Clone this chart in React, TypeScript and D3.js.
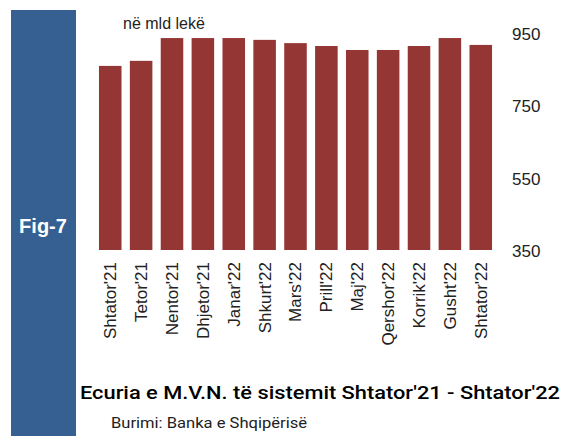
import React from "react";
import * as d3 from "d3";

const categories = ["Shtator'21","Tetor'21","Nentor'21","Dhjetor'21","Janar'22","Shkurt'22","Mars'22","Prill'22","Maj'22","Qershor'22","Korrik'22","Gusht'22","Shtator'22"];
const values = [859, 873, 936, 936, 936, 931, 922, 914, 903, 903, 914, 936, 917];
const yTicks = [350, 550, 750, 950];
const unitLabel = "në mld lekë";
const figLabel = "Fig-7";
const title = "Ecuria e M.V.N. të sistemit Shtator'21 - Shtator'22";
const source = "Burimi: Banka e Shqipërisë";

export default function App() {
  const W = 563, H = 436;
  const x = d3.scaleBand<string>().domain(categories).range([94.8, 496.2]).paddingInner(0.27).paddingOuter(0.135);
  const y = d3.scaleLinear().domain([350, 950]).range([250, 33]);
  const font = "'Liberation Sans', Arial, sans-serif";
  return (
    <svg width={W} height={H} style={{ position: "absolute", left: 0, top: 0 }} fontFamily={font}>
      <rect x={0} y={0} width={W} height={H} fill="#fff" />
      <rect x={11} y={10} width={65} height={426} fill="#366092" />
      <text x={43} y={233} fill="#fff" fontSize={20} fontWeight="bold" textAnchor="middle">{figLabel}</text>
      <text x={123} y={29} fontSize={16} fill="#222">{unitLabel}</text>
      {categories.map((c, i) => (
        <rect key={c} x={x(c)} y={y(values[i])} width={x.bandwidth()} height={y(350) - y(values[i])} fill="#943634" />
      ))}
      {yTicks.map(t => (
        <text key={t} x={512} y={y(t) + 1.5} dominantBaseline="central" fontSize={17} fill="#222">{t}</text>
      ))}
      {categories.map(c => {
        const cx = (x(c) as number) + x.bandwidth() / 2;
        return (
          <text key={c} transform={`translate(${cx},262) rotate(-90)`} textAnchor="end" dy="0.35em" fontSize={17} fill="#222">{c}</text>
        );
      })}
      <text x={80} y={399} fontSize={19} fill="#000" fontFamily="Roboto, 'Liberation Sans', sans-serif" textLength={480} lengthAdjust="spacingAndGlyphs" fontWeight={500}>{title}</text>
      <text x={111} y={428} fontSize={14} fill="#222" fontFamily="Roboto, 'Liberation Sans', sans-serif" textLength={196} lengthAdjust="spacingAndGlyphs">{source}</text>
    </svg>
  );
}
